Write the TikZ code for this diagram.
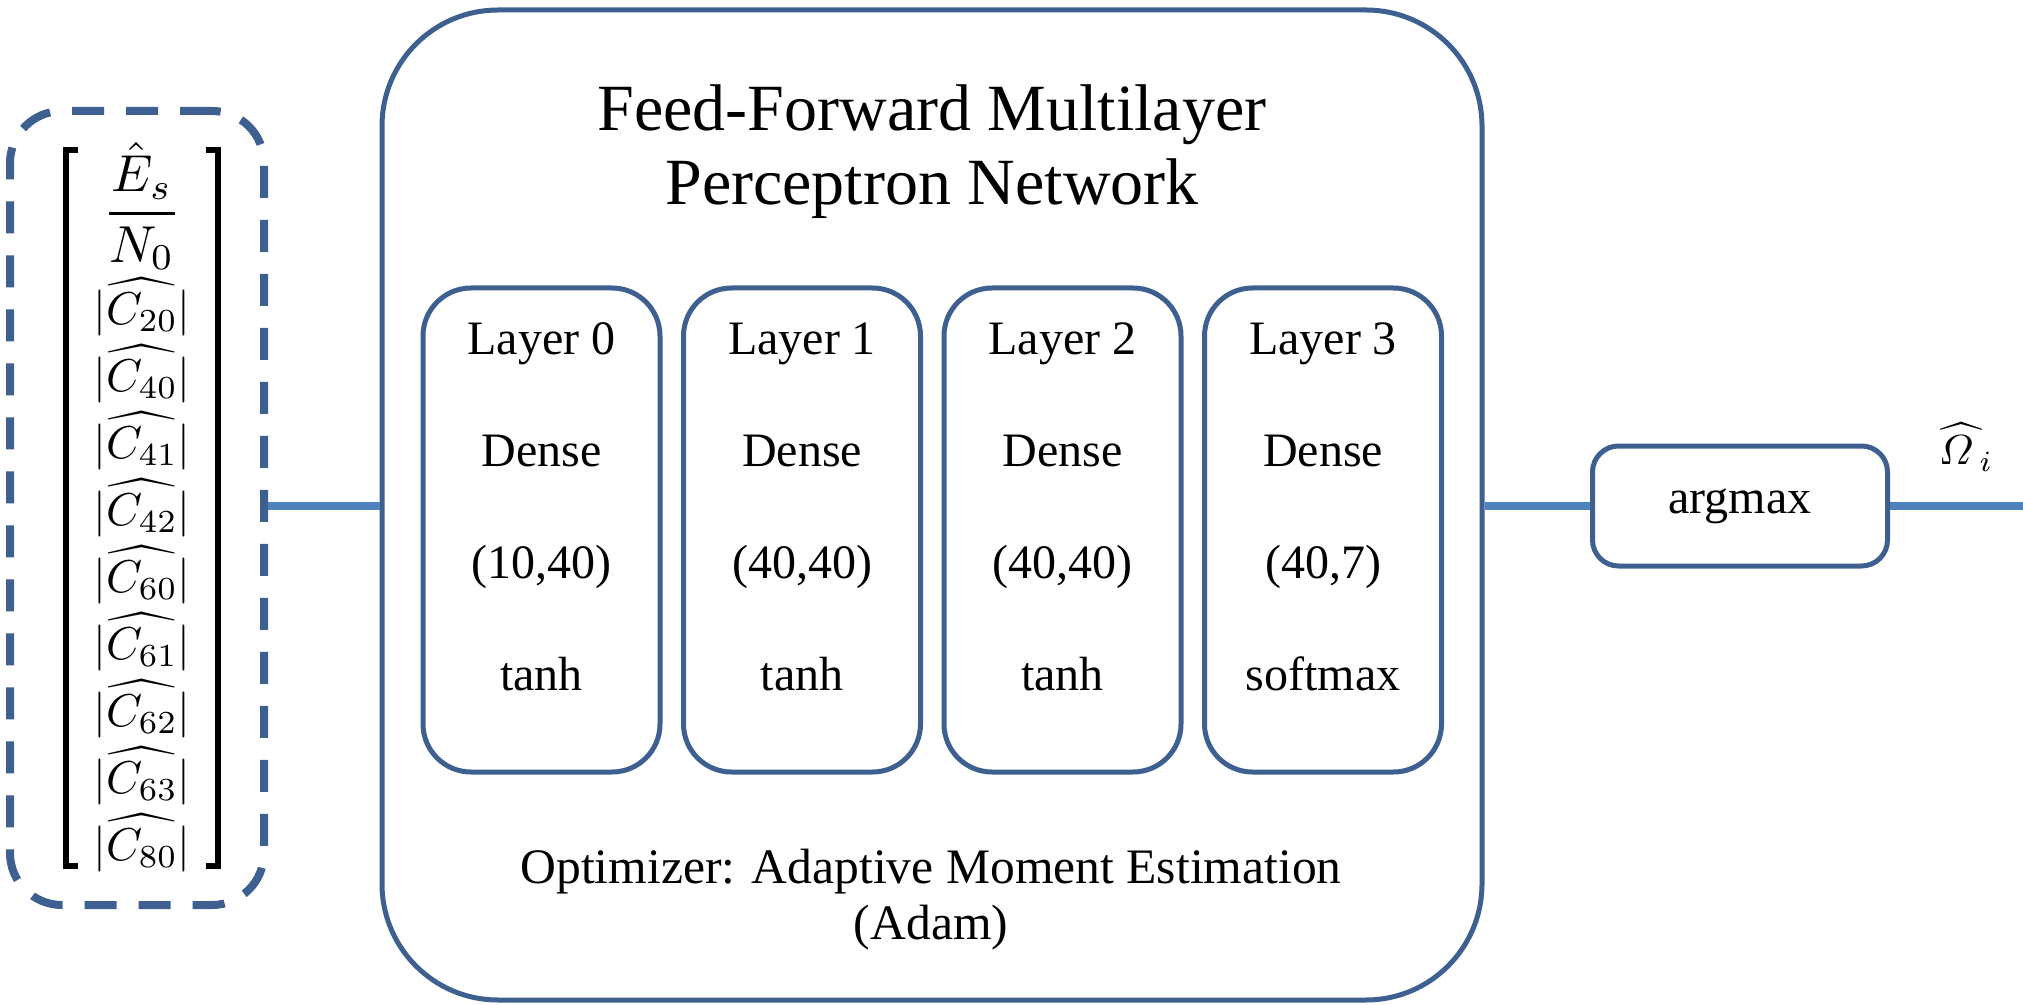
\documentclass[tikz,border=0pt]{standalone}
\usepackage{amsmath}
\usepackage{graphicx}
\usepackage{fontspec}
\setmainfont{Liberation Serif}
\usepackage{tikz}
\definecolor{edgeblue}{HTML}{3D6091}
\definecolor{linkblue}{HTML}{4F81BD}

\begin{document}
\begin{tikzpicture}[x=0.5pt,y=-0.5pt,
  box/.style={draw=edgeblue,line width=2.5pt,fill=white,inner sep=0pt},
  link/.style={draw=linkblue,line width=3.7pt}]
\useasboundingbox (0,0) rectangle (2023,1005);
% input vector
\node[box,dashed,line width=4pt,dash pattern=on 16pt off 11pt,rounded corners=26pt,
  minimum width=127pt,minimum height=397pt] (vec) at (137,508) {};
\draw[line width=2.6pt] (78,150) -- (66,150) -- (66,866) -- (78,866);
\draw[line width=2.6pt] (206,150) -- (218,150) -- (218,866) -- (206,866);
\node (snr) at (142,206) {\scalebox{2.6}{$\dfrac{\hat{E}_s}{N_0}$}};
\foreach \s [count=\k from 0] in {20,40,41,42,60,61,62,63,80}
  \node (c\s) at (142,307+67*\k) {\scalebox{2.3}{$|\widehat{C_{\s}}|$}};
% network
\node[box,rounded corners=58pt,minimum width=550pt,minimum height=495pt] (mlp) at (932,505) {};
\node[align=center,font=\fontsize{33}{37}\selectfont] (title) at (932,152)
  {Feed-Forward Multilayer\\Perceptron Network};
\foreach \i/\sz/\act in {0/{(10,40)}/tanh,1/{(40,40)}/tanh,2/{(40,40)}/tanh,3/{(40,7)}/softmax}{
  \node[box,rounded corners=24pt,minimum width=118.5pt,minimum height=242pt] (l\i)
    at (541.5+260.5*\i,530) {};
  \node[align=center,font=\fontsize{24}{56}\selectfont] (t\i) at ([yshift=11.5pt]l\i.center)
    {Layer \i\\Dense\\\sz\\\act};
}
\node[align=center,font=\fontsize{24.8}{28}\selectfont] (opt) at (931,900)
  {Optimizer: Adaptive Moment Estimation\\(Adam)};
% output
\node[box,rounded corners=13pt,minimum width=147.5pt,minimum height=60pt,
  font=\fontsize{24}{26}\selectfont] (am) at (1740,506) {argmax};
\coordinate (out) at (2023,506);
\node (omega) at (1966,447) {\scalebox{2.1}{$\widehat{\varOmega\;}_{\!i}$}};
\draw[link] (vec.east |- am.west) -- (mlp.west |- am.west);
\draw[link] (mlp.east |- am.west) -- (am.west);
\draw[link] (am.east) -- (out);
\end{tikzpicture}
\end{document}
